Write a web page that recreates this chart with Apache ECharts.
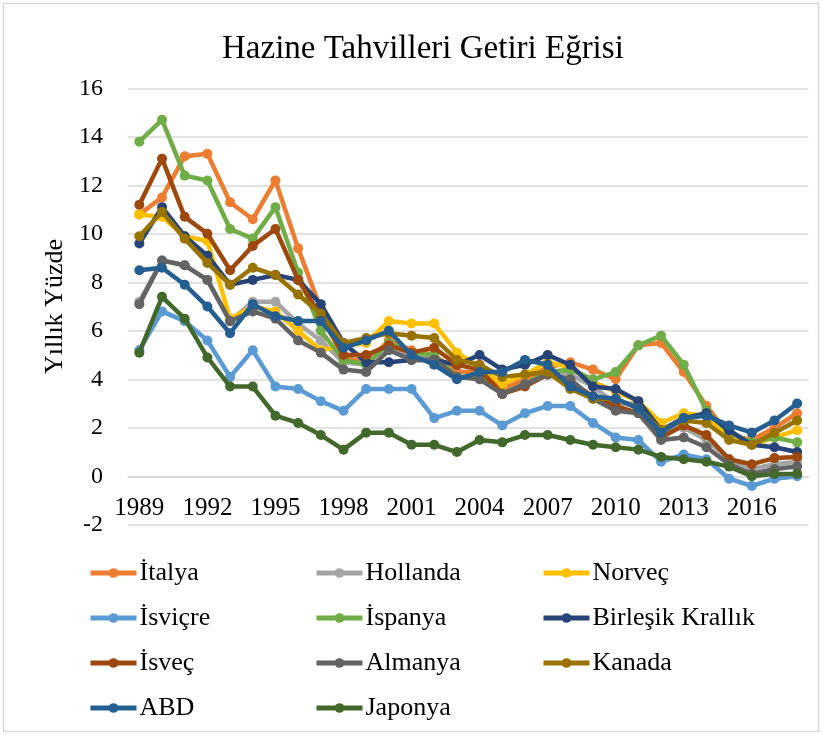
<!DOCTYPE html>
<html>
<head>
<meta charset="utf-8">
<script src="https://cdn.jsdelivr.net/npm/echarts@6/dist/echarts.min.js"></script>
<style>
html,body{margin:0;padding:0;background:#fff;}
#chart{width:823px;height:735px;}
</style>
</head>
<body>
<div id="chart"></div>
<script>
const years = ['1989','1990','1991','1992','1993','1994','1995','1996','1997','1998','1999','2000','2001','2002','2003','2004','2005','2006','2007','2008','2009','2010','2011','2012','2013','2014','2015','2016','2017','2018'];
const yTicks = [-2, 0, 2, 4, 6, 8, 10, 12, 14, 16];

const italya   = [10.8, 11.5, 13.2, 13.3, 11.3, 10.6, 12.2, 9.4, 6.9, 4.9, 4.7, 5.6, 5.2, 5.0, 4.3, 4.3, 3.6, 4.0, 4.5, 4.7, 4.4, 4.0, 5.4, 5.5, 4.3, 2.9, 1.7, 1.5, 2.0, 2.6];
const hollanda = [7.2, 8.9, 8.7, 8.1, 6.4, 7.2, 7.2, 6.3, 5.6, 4.7, 4.6, 5.4, 4.9, 4.9, 4.1, 4.1, 3.4, 3.8, 4.3, 4.2, 3.7, 3.0, 3.0, 1.9, 2.0, 1.5, 0.7, 0.3, 0.5, 0.6];
const norvec   = [10.8, 10.7, 9.9, 9.7, 6.5, 7.0, 6.8, 6.0, 5.2, 5.4, 5.5, 6.4, 6.3, 6.3, 5.1, 4.5, 3.8, 4.2, 4.7, 4.5, 3.9, 3.5, 3.1, 2.2, 2.6, 2.5, 1.6, 1.3, 1.6, 1.9];
const isvicre  = [5.2, 6.8, 6.4, 5.6, 4.1, 5.2, 3.7, 3.6, 3.1, 2.7, 3.6, 3.6, 3.6, 2.4, 2.7, 2.7, 2.1, 2.6, 2.9, 2.9, 2.2, 1.6, 1.5, 0.6, 0.9, 0.7, -0.1, -0.4, -0.1, 0.0];
const ispanya  = [13.8, 14.7, 12.4, 12.2, 10.2, 9.8, 11.1, 8.4, 6.0, 4.8, 4.6, 5.5, 5.1, 5.0, 4.1, 4.1, 3.4, 3.8, 4.3, 4.4, 4.0, 4.3, 5.4, 5.8, 4.6, 2.7, 1.8, 1.4, 1.6, 1.4];
const birlesik = [9.6, 11.1, 9.9, 9.1, 7.9, 8.1, 8.3, 8.1, 7.1, 5.5, 4.7, 4.7, 4.8, 4.8, 4.6, 5.0, 4.4, 4.6, 5.0, 4.6, 3.7, 3.6, 3.1, 1.9, 2.4, 2.6, 1.9, 1.3, 1.2, 1.0];
const isvec    = [11.2, 13.1, 10.7, 10.0, 8.5, 9.5, 10.2, 8.1, 6.6, 5.0, 5.0, 5.4, 5.1, 5.3, 4.6, 4.4, 3.4, 3.7, 4.2, 3.9, 3.3, 2.9, 2.6, 1.6, 2.1, 1.7, 0.7, 0.5, 0.75, 0.8];
const almanya  = [7.1, 8.9, 8.7, 8.1, 6.4, 6.8, 6.5, 5.6, 5.1, 4.4, 4.3, 5.2, 4.8, 4.8, 4.1, 4.0, 3.4, 3.8, 4.2, 4.0, 3.2, 2.7, 2.6, 1.5, 1.6, 1.2, 0.5, 0.1, 0.3, 0.4];
const kanada   = [9.9, 10.9, 9.8, 8.8, 7.9, 8.6, 8.3, 7.5, 6.7, 5.5, 5.7, 5.9, 5.8, 5.7, 4.8, 4.6, 4.1, 4.2, 4.3, 3.6, 3.2, 3.2, 2.8, 1.9, 2.3, 2.2, 1.5, 1.3, 1.8, 2.3];
const abd      = [8.5, 8.6, 7.9, 7.0, 5.9, 7.1, 6.6, 6.4, 6.4, 5.3, 5.6, 6.0, 5.0, 4.6, 4.0, 4.3, 4.3, 4.8, 4.6, 3.7, 3.3, 3.2, 2.8, 1.8, 2.4, 2.5, 2.1, 1.8, 2.3, 3.0];
const japonya  = [5.1, 7.4, 6.5, 4.9, 3.7, 3.7, 2.5, 2.2, 1.7, 1.1, 1.8, 1.8, 1.3, 1.3, 1.0, 1.5, 1.4, 1.7, 1.7, 1.5, 1.3, 1.2, 1.1, 0.8, 0.7, 0.6, 0.4, 0.0, 0.1, 0.1];

const seriesNames = ['İtalya','Hollanda','Norveç','İsviçre','İspanya','Birleşik Krallık','İsveç','Almanya','Kanada','ABD','Japonya'];
const seriesData = [italya, hollanda, norvec, isvicre, ispanya, birlesik, isvec, almanya, kanada, abd, japonya];
const colors = ['#ED7D31','#A5A5A5','#FFC000','#5B9BD5','#70AD47','#264478','#9E480E','#636363','#997300','#255E91','#43682B'];

const FONT = '"Liberation Serif", "Times New Roman", serif';

const chart = echarts.init(document.getElementById('chart'), null, {renderer: 'canvas'});

const legendCommon = {
  orient: 'vertical',
  padding: 0,
  itemWidth: 46,
  itemHeight: 12,
  itemGap: 15,
  selectedMode: false,
  lineStyle: {width: 5},
  itemStyle: {borderWidth: 0},
  textStyle: {fontFamily: FONT, fontSize: 26, color: '#000', lineHeight: 30, padding: [0, 0, 0, -2]}
};

chart.setOption({
  animation: false,
  backgroundColor: '#fff',
  color: colors,
  title: {
    text: 'Hazine Tahvilleri Getiri Eğrisi',
    left: 217,
    top: 28,
    textStyle: {fontFamily: FONT, fontSize: 33, fontWeight: 'normal', color: '#000'}
  },
  graphic: [{
    type: 'rect',
    shape: {x: 3.5, y: 3.5, width: 815, height: 728},
    style: {fill: 'none', stroke: '#D9D9D9', lineWidth: 1.5},
    silent: true
  }],
  legend: [
    Object.assign({left: 88, top: 558, data: ['İtalya','İsviçre','İsveç','ABD']}, legendCommon),
    Object.assign({left: 314, top: 558, data: ['Hollanda','İspanya','Almanya','Japonya']}, legendCommon),
    Object.assign({left: 541, top: 558, data: ['Norveç','Birleşik Krallık','Kanada']}, legendCommon)
  ],
  grid: {left: 128, right: 14.5, top: 88.3, bottom: 210.2, containLabel: false},
  xAxis: {
    type: 'category',
    data: years,
    boundaryGap: true,
    position: 'bottom',
    offset: -48.5,
    axisLine: {onZero: false, lineStyle: {color: '#D9D9D9', width: 1.5}},
    axisTick: {show: false},
    axisLabel: {interval: 2, fontFamily: FONT, fontSize: 25, color: '#000', margin: 20},
    splitLine: {show: false}
  },
  yAxis: {
    type: 'value',
    min: yTicks[0],
    max: yTicks[yTicks.length - 1],
    interval: 2,
    name: 'Yıllık Yüzde',
    nameLocation: 'middle',
    nameRotate: 90,
    nameGap: 60,
    nameTextStyle: {fontFamily: FONT, fontSize: 26, color: '#000'},
    axisLine: {show: false},
    axisTick: {show: false},
    axisLabel: {fontFamily: FONT, fontSize: 24, color: '#000', margin: 25},
    splitLine: {lineStyle: {color: '#D9D9D9', width: 1.5}}
  },
  series: seriesNames.map((name, i) => ({
    name: name,
    type: 'line',
    data: seriesData[i],
    symbol: 'circle',
    symbolSize: 10,
    showSymbol: true,
    lineStyle: {width: 4.5, color: colors[i]},
    itemStyle: {color: colors[i]},
    z: 2 + i
  }))
});
</script>
</body>
</html>
